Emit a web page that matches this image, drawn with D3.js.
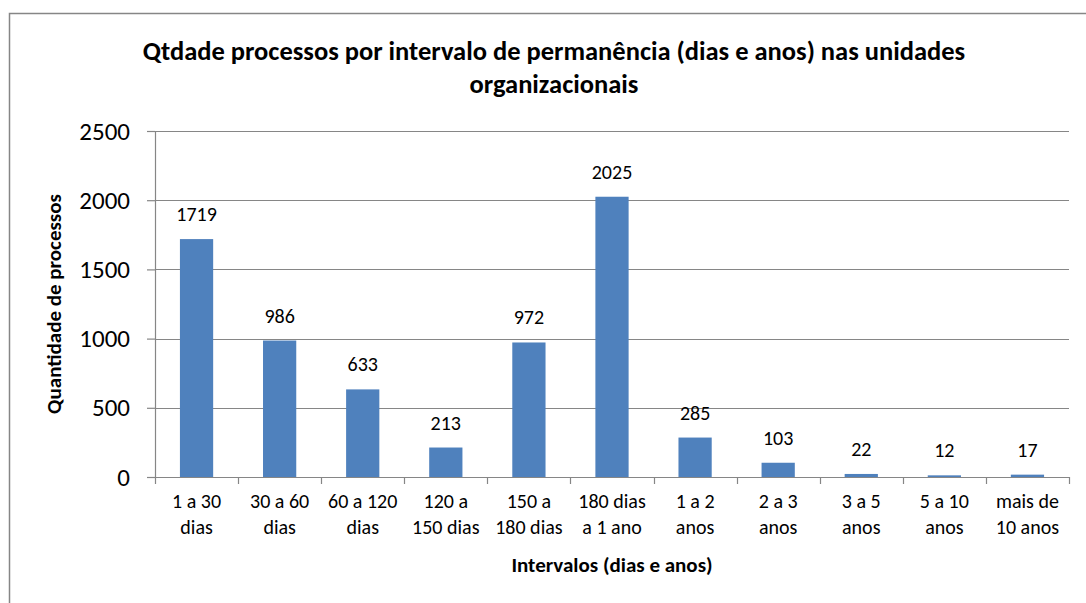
<!DOCTYPE html>
<html>
<head>
<meta charset="utf-8">
<script src="https://cdn.jsdelivr.net/npm/d3@7"></script>
<style>
  body { margin: 0; background: #fff; font-family: Carlito, "Open Sans", sans-serif; }
</style>
</head>
<body>
<svg id="chart" width="1086" height="603"></svg>
<script>
// data
const categories = [
    ["1 a 30", "dias"], ["30 a 60", "dias"], ["60 a 120", "dias"], ["120 a", "150 dias"],
    ["150 a", "180 dias"], ["180 dias", "a 1 ano"], ["1 a 2", "anos"], ["2 a 3", "anos"],
    ["3 a 5", "anos"], ["5 a 10", "anos"], ["mais de", "10 anos"]
]
const values = [1719, 986, 633, 213, 972, 2025, 285, 103, 22, 12, 17]
const yTicks = [0, 500, 1000, 1500, 2000, 2500]

const margin = { top: 131, right: 17, bottom: 126, left: 155 }
const width = 1086, height = 603
const boundedWidth = width - margin.left - margin.right
const boundedHeight = height - margin.top - margin.bottom

const svg = d3.select("#chart")
    .attr("font-family", "Carlito, 'Open Sans', sans-serif")

// outer chart border
svg.append("rect")
    .attr("x", 9.5).attr("y", 13.5)
    .attr("width", 1090).attr("height", 600)
    .attr("fill", "none")
    .attr("stroke", "#868686")
    .attr("stroke-width", 1.5)

const group = svg.append("g")
    .attr("transform", `translate(${margin.left}, ${margin.top})`)

const xScale = d3.scaleBand()
    .domain(d3.range(categories.length))
    .range([0, boundedWidth])
    .paddingInner(0.6)
    .paddingOuter(0.3)

const xBand = d3.scaleBand()
    .domain(d3.range(categories.length))
    .range([0, boundedWidth])

const yScale = d3.scaleLinear()
    .domain([0, 2500])
    .range([boundedHeight, 0])

// gridlines
group.selectAll(".grid")
    .data(yTicks.filter(d => d > 0))
    .join("line")
    .attr("x1", 0).attr("x2", boundedWidth)
    .attr("y1", d => Math.round(yScale(d)) + 0.5)
    .attr("y2", d => Math.round(yScale(d)) + 0.5)
    .attr("stroke", "#868686")
    .attr("stroke-width", 1.2)

// y axis
const yAxis = group.append("g")
    .call(d3.axisLeft(yScale).tickValues(yTicks).tickSize(8).tickPadding(17).tickFormat(d3.format("d")))
yAxis.select(".domain").attr("stroke", "#868686").attr("stroke-width", 1.2)
yAxis.selectAll(".tick line").attr("stroke", "#868686").attr("stroke-width", 1.2)
yAxis.selectAll(".tick text")
    .attr("font-family", "Carlito, 'Open Sans', sans-serif")
    .attr("font-size", 25)
    .attr("fill", "#000")

// bars
group.selectAll(".bar")
    .data(values)
    .join("rect")
    .attr("x", (d, i) => xScale(i))
    .attr("y", d => yScale(d))
    .attr("width", xScale.bandwidth())
    .attr("height", d => boundedHeight - yScale(d))
    .attr("fill", "#4f81bd")

// value labels
group.selectAll(".val")
    .data(values)
    .join("text")
    .attr("x", (d, i) => xScale(i) + xScale.bandwidth() / 2)
    .attr("y", d => yScale(d) - 18)
    .attr("text-anchor", "middle")
    .attr("font-size", 20)
    .attr("fill", "#000")
    .text(d => d)

// x axis
const xAxis = group.append("g")
    .attr("transform", `translate(0, ${boundedHeight})`)
xAxis.append("line")
    .attr("x1", 0).attr("x2", boundedWidth)
    .attr("y1", 0.5).attr("y2", 0.5)
    .attr("stroke", "#868686").attr("stroke-width", 1.2)
xAxis.selectAll(".xt")
    .data(d3.range(categories.length + 1))
    .join("line")
    .attr("x1", d => Math.round(d * xBand.step()) + 0.5)
    .attr("x2", d => Math.round(d * xBand.step()) + 0.5)
    .attr("y1", 0).attr("y2", 7)
    .attr("stroke", "#868686").attr("stroke-width", 1.2)

categories.forEach((c, i) => {
    const t = xAxis.append("text")
        .attr("x", xBand(i) + xBand.bandwidth() / 2)
        .attr("y", 31)
        .attr("text-anchor", "middle")
        .attr("font-size", 20)
        .attr("fill", "#000")
    c.forEach((line, j) => {
        t.append("tspan")
            .attr("x", xBand(i) + xBand.bandwidth() / 2)
            .attr("dy", j === 0 ? 0 : 26)
            .text(line)
    })
})

// axis titles
svg.append("text")
    .attr("x", margin.left + boundedWidth / 2)
    .attr("y", 572)
    .attr("text-anchor", "middle")
    .attr("font-size", 21)
    .attr("font-weight", "bold")
    .text("Intervalos (dias e anos)")

svg.append("text")
    .attr("transform", `translate(61, ${margin.top + boundedHeight / 2}) rotate(-90)`)
    .attr("text-anchor", "middle")
    .attr("font-size", 21)
    .attr("font-weight", "bold")
    .text("Quantidade de processos")

// title
const title = svg.append("text")
    .attr("text-anchor", "middle")
    .attr("font-size", 26.5)
    .attr("font-weight", "bold")
title.append("tspan").attr("x", 554).attr("y", 60)
    .text("Qtdade processos por intervalo de permanência (dias e anos) nas unidades")
title.append("tspan").attr("x", 554).attr("y", 93)
    .text("organizacionais")
</script>
</body>
</html>
